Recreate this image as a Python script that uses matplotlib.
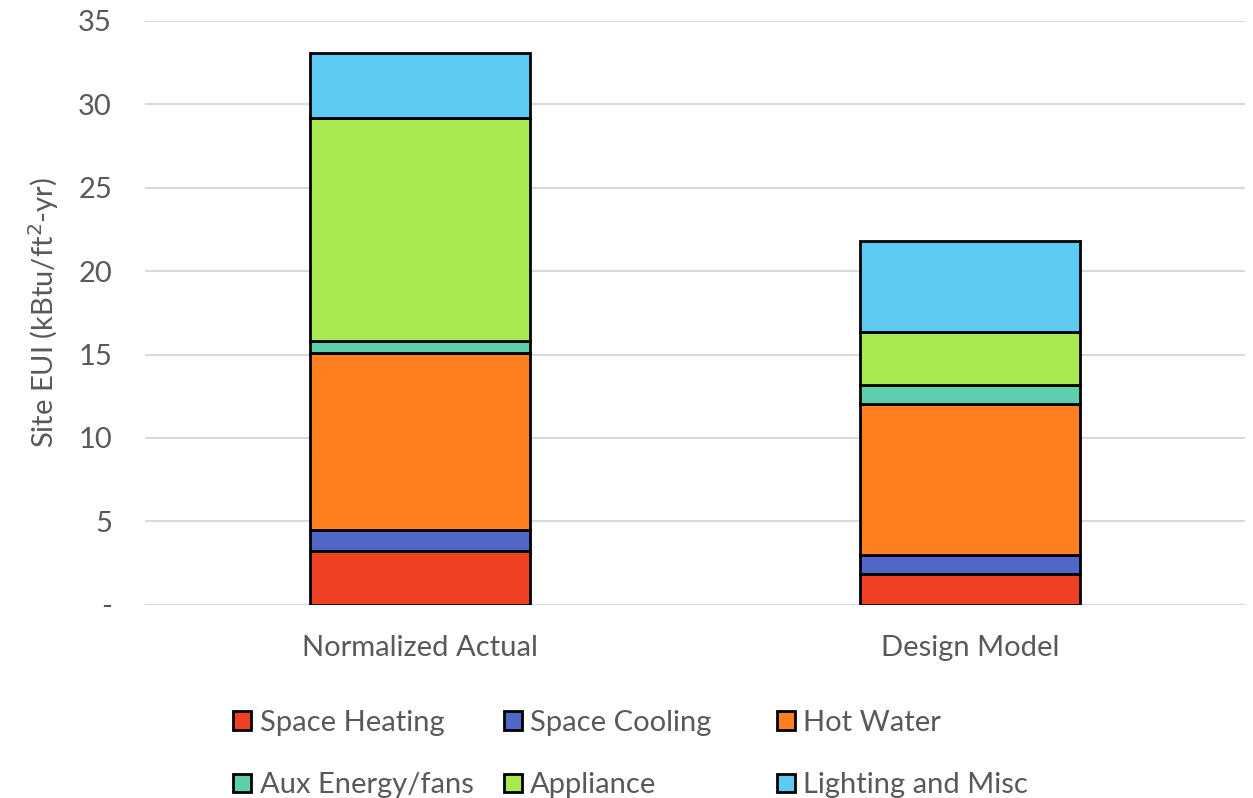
import matplotlib
matplotlib.use('Agg')
import matplotlib.pyplot as plt
from matplotlib.patches import Patch
import numpy as np

# data
categories = ['Normalized Actual', 'Design Model']
end_uses = ['Space Heating', 'Space Cooling', 'Hot Water',
            'Aux Energy/fans', 'Appliance', 'Lighting and Misc']
space_heating = [3.22, 1.83]
space_cooling = [1.24, 1.18]
hot_water = [10.64, 9.04]
aux_fans = [0.74, 1.14]
appliance = [13.35, 3.15]
lighting_misc = [3.89, 5.44]
yticks = [0, 5, 10, 15, 20, 25, 30, 35]
ytick_labels = ['-', '5', '10', '15', '20', '25', '30', '35']

colors = ['#EE4123', '#4F67C6', '#FF8021', '#5ECFAC', '#A9E951', '#5DCBF1']
series = [space_heating, space_cooling, hot_water, aux_fans, appliance, lighting_misc]

plt.rcParams['font.family'] = ['Lato', 'DejaVu Sans']
text_col = '#595959'
fs = 21

fig = plt.figure(figsize=(12.53, 7.98), dpi=100)
ax = fig.add_axes([0.116, 0.242, 0.878, 0.732])

x = np.arange(len(categories))
bottom = np.zeros(len(categories))
for vals, col, name in zip(series, colors, end_uses):
    ax.bar(x, vals, width=0.4, bottom=bottom, color=col, edgecolor='black',
           linewidth=2, label=name, zorder=3)
    bottom += np.array(vals)

ax.set_xlim(-0.5, 1.5)
ax.set_ylim(0, 35)
ax.set_yticks(yticks)
ax.set_yticklabels(ytick_labels)
ax.set_xticks(x)
ax.set_xticklabels(categories)
ax.tick_params(axis='both', length=0, labelsize=fs, colors=text_col)
ax.tick_params(axis='x', pad=22)
ax.tick_params(axis='y', pad=24)
ax.yaxis.grid(True, color='#d9d9d9', linewidth=1.5, zorder=0)
for s in ax.spines.values():
    s.set_visible(False)
ax.set_ylabel('Site EUI (kBtu/ft$^2$-yr)', fontsize=fs, color=text_col, labelpad=12)

# legend: three columns placed separately
handles = [Patch(facecolor=c, edgecolor='black', linewidth=2) for c in colors]
col_x = [0.177, 0.393, 0.611]
for i, cx in enumerate(col_x):
    idx = [i, i + 3]
    leg = fig.legend([handles[j] for j in idx], [end_uses[j] for j in idx],
                     loc='upper left', bbox_to_anchor=(cx, 0.125), frameon=False,
                     fontsize=fs, handlelength=0.6, handleheight=0.6,
                     handletextpad=0.3, labelspacing=1.25, borderaxespad=0)
    for t in leg.get_texts():
        t.set_color(text_col)

fig.savefig('out.png', dpi=100)
